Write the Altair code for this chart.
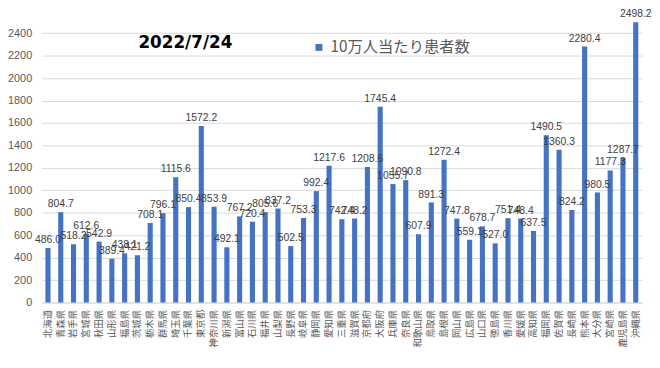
import altair as alt
import pandas as pd

prefs = ["北海道", "青森県", "岩手県", "宮城県", "秋田県", "山形県", "福島県", "茨城県", "栃木県", "群馬県",
         "埼玉県", "千葉県", "東京都", "神奈川県", "新潟県", "富山県", "石川県", "福井県", "山梨県", "長野県",
         "岐阜県", "静岡県", "愛知県", "三重県", "滋賀県", "京都府", "大阪府", "兵庫県", "奈良県", "和歌山県",
         "鳥取県", "島根県", "岡山県", "広島県", "山口県", "徳島県", "香川県", "愛媛県", "高知県", "福岡県",
         "佐賀県", "長崎県", "熊本県", "大分県", "宮崎県", "鹿児島県", "沖縄県"]
values = [486.0, 804.7, 518.2, 612.6, 542.9, 389.4, 438.1, 421.2, 708.1, 796.1,
          1115.6, 850.4, 1572.2, 853.9, 492.1, 767.2, 720.4, 805.6, 837.2, 502.5,
          753.3, 992.4, 1217.6, 742.4, 748.2, 1208.6, 1745.4, 1055.7, 1090.8, 607.9,
          891.3, 1272.4, 747.8, 559.1, 678.7, 527.0, 751.4, 748.4, 637.5, 1490.5,
          1360.3, 824.2, 2280.4, 980.5, 1177.3, 1287.7, 2498.2]
y_ticks = [0, 200, 400, 600, 800, 1000, 1200, 1400, 1600, 1800, 2000, 2200, 2400]
series_name = "10万人当たり患者数"
title_text = "2022/7/24"

df = pd.DataFrame({"pref": prefs, "value": values, "series": series_name})
df["label"] = df["value"].map(lambda v: f"{v:.1f}")

x = alt.X("pref:N", sort=None,
          scale=alt.Scale(paddingInner=0.6, paddingOuter=0.3),
          axis=alt.Axis(labelAngle=-90, labelFontSize=9.5, labelFont="Noto Sans CJK JP",
                        labelColor="#595959", ticks=False, domainColor="#D9D9D9",
                        title=None, labelPadding=7, labelOverlap=False))
y = alt.Y("value:Q", scale=alt.Scale(domain=[0, 2500], nice=False),
          axis=alt.Axis(values=y_ticks, format="d", labelFontSize=11, labelFont="Liberation Sans",
                        labelColor="#595959", ticks=False, domain=False,
                        gridColor="#D9D9D9", title=None, labelPadding=10))

base = alt.Chart(df)
bars = base.mark_bar(color="#4472C4").encode(
    x=x, y=y,
    color=alt.Color("series:N", scale=alt.Scale(range=["#4472C4"]),
                    legend=alt.Legend(orient="none", legendX=273, legendY=18, title=None,
                                      symbolType="square", symbolSize=49,
                                      labelFontSize=15.5, labelFont="Noto Sans CJK JP",
                                      labelColor="#595959", symbolStrokeWidth=0))
)
labels = base.mark_text(baseline="bottom", dy=-3, fontSize=10.5, font="Liberation Sans",
                        color="#404040").encode(x=x, y=y, text="label:N")
title = alt.Chart(pd.DataFrame({"t": [title_text]})).mark_text(
    fontSize=17, fontWeight="bold", font="DejaVu Sans", color="#000000",
    align="left", baseline="middle").encode(
    x=alt.value(98), y=alt.value(21), text="t:N")

chart = alt.layer(bars, labels, title).properties(
    width=608, height=284,
    autosize=alt.AutoSizeParams(type="none"),
    padding={"left": 34, "top": 12, "right": 10, "bottom": 50}
).configure_view(stroke=None)

chart.save("out.html", embed_options={"renderer": "svg", "actions": False})
